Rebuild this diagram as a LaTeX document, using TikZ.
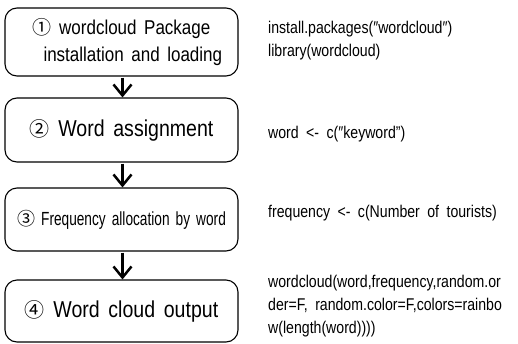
\documentclass[tikz,border=0pt]{standalone}
\usepackage{fontspec}
\setmainfont[FakeStretch=0.85,WordSpace=1.6]{Liberation Sans}
\newfontfamily\narrowf[FakeStretch=0.72,WordSpace=1.6]{Liberation Sans}
\newfontfamily\codef[FakeStretch=0.83,WordSpace=1.9]{Liberation Sans}
\newfontfamily\circf{Noto Sans CJK SC}
\usetikzlibrary{arrows.meta}
\tikzset{
  stepbox/.style={draw, line width=1.1pt, rounded corners=12pt, minimum width=233pt, align=center, inner sep=0pt},
  flow/.style={line width=2.5pt, -{Straight Barb[length=11pt,width=18pt,line width=2.5pt]}},
  code/.style={anchor=base west, inner sep=0pt, font=\codef\fontsize{17pt}{23pt}\selectfont, align=left}
}
\begin{document}
\begin{tikzpicture}[x=1pt,y=-1pt]
\useasboundingbox (0,0) rectangle (518,343);
\node[stepbox, minimum height=68pt, font=\fontsize{20pt}{27pt}\selectfont] (b1) at (121.5,42)
  {{\circf\fontsize{19pt}{19pt}\selectfont ①} wordcloud Package\\ \ \ \ installation and loading};
\node[stepbox, minimum height=64pt, font=\fontsize{23pt}{26pt}\selectfont] (b2) at (121.5,130)
  {{\circf\fontsize{20pt}{20pt}\selectfont ②} Word assignment};
\node[stepbox, minimum height=63pt, font=\narrowf\fontsize{19pt}{24pt}\selectfont] (b3) at (121.5,219.5)
  {{\circf\fontsize{18pt}{18pt}\selectfont ③} Frequency allocation by word};
\node[stepbox, minimum height=62pt, font=\fontsize{23pt}{26pt}\selectfont] (b4) at (121.5,311)
  {{\circf\fontsize{20pt}{20pt}\selectfont ④} Word cloud output};
\draw[flow] ([xshift=1pt,yshift=-1pt]b1.south) -- ([xshift=1pt]b2.north);
\draw[flow] ([xshift=1pt,yshift=-1pt]b2.south) -- ([xshift=1pt]b3.north);
\draw[flow] ([xshift=1pt,yshift=-1pt]b3.south) -- ([xshift=1pt]b4.north);
\node[code] (c1) at (268,56) {install.packages(″wordcloud″)\\library(wordcloud)};
\node[code] (c2) at (268,138) {word <- c(″keyword”)};
\node[code] (c3) at (268,217) {frequency <- c(Number of tourists)};
\node[code] (c4) at (268,333) {wordcloud(word,frequency,random.or\\der=F, random.color=F,colors=rainbo\\w(length(word))))};
\end{tikzpicture}
\end{document}
